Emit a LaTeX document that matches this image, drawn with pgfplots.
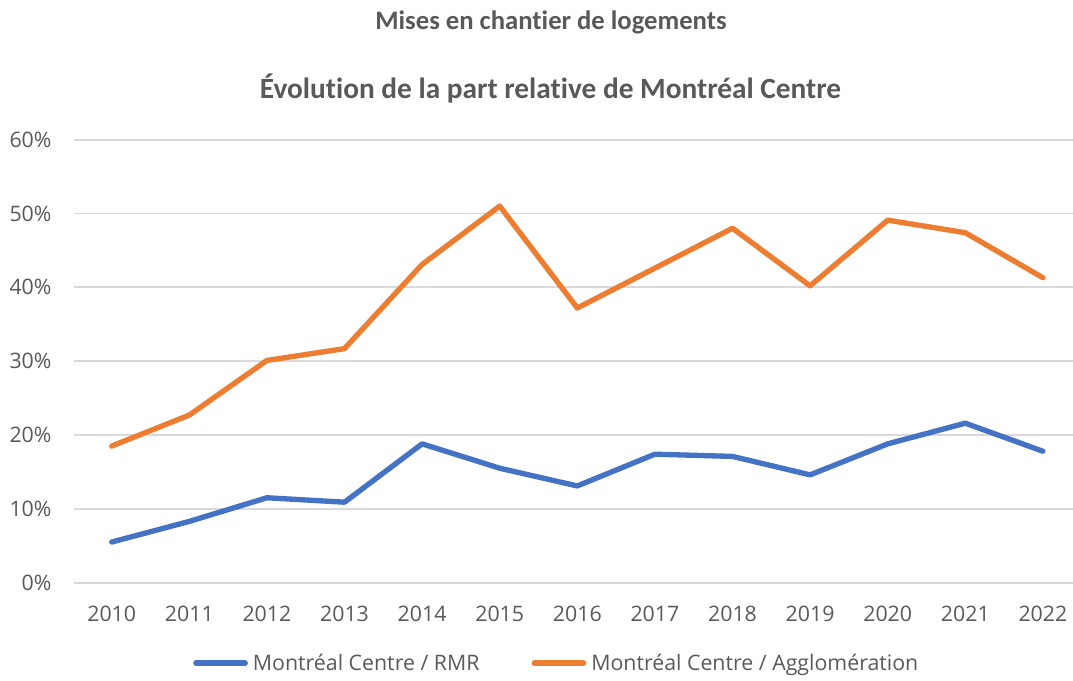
\documentclass[border=0pt]{standalone}
\usepackage{fontspec}
\setmainfont{Open Sans}
\newfontfamily\titlefont{Carlito}[Ligatures=NoCommon]
\usepackage{pgfplots}
\pgfplotsset{compat=1.18}
\definecolor{txt}{HTML}{595959}
\definecolor{gridc}{HTML}{D9D9D9}
\definecolor{rmr}{HTML}{4472C4}
\definecolor{agglo}{HTML}{ED7D31}

\begin{document}
\begin{tikzpicture}
% whole picture: 1073 x 681 px at 0.75pt per px
\useasboundingbox (-55.5pt,-73.7pt) rectangle (749.25pt,437pt);
\begin{axis}[
    at={(0pt,0pt)}, anchor=south west,
    scale only axis,
    width=749.25pt, height=332.25pt,
    xmin=-0.486, xmax=12.388,
    ymin=0, ymax=60,
    xtick={0,...,12},
    xticklabels={2010,2011,2012,2013,2014,2015,2016,2017,2018,2019,2020,2021,2022},
    ytick={0,10,...,60},
    yticklabels={0\%,10\%,20\%,30\%,40\%,50\%,60\%},
    /pgf/number format/assume math mode=true,
    axis line style={draw=none},
    major tick length=0pt,
    ymajorgrids=true,
    grid style={gridc, line width=1.3pt},
    ticklabel style={font=\fontsize{16}{19}\selectfont, text=txt, inner sep=0pt},
    xticklabel style={anchor=center, yshift=-23.25pt},
    yticklabel style={anchor=east, xshift=-16.7pt},
    legend columns=2,
    legend style={
        at={(axis description cs:0.1191,-0.1813)}, anchor=west,
        draw=none, fill=none, inner sep=0pt,
        font=\fontsize{16}{19}\selectfont, text=txt,
        nodes={inner sep=0pt},
        /tikz/every odd column/.append style={column sep=3.75pt},
        /tikz/every even column/.append style={column sep=39pt},
    },
    legend image code/.code={\draw[#1, line cap=round] (2pt,0pt) -- (39pt,0pt);},
    every axis plot/.append style={line width=4pt, line join=round, line cap=round},
]
% Montréal Centre / RMR
\addplot[rmr] coordinates {
    (0,5.5)(1,8.3)(2,11.5)(3,10.9)(4,18.8)(5,15.5)(6,13.1)
    (7,17.4)(8,17.1)(9,14.6)(10,18.8)(11,21.6)(12,17.8)
};
\addlegendentry{Montréal Centre / RMR}
% Montréal Centre / Agglomération
\addplot[agglo] coordinates {
    (0,18.5)(1,22.7)(2,30.1)(3,31.7)(4,43.1)(5,51.0)(6,37.2)
    (7,42.6)(8,48.0)(9,40.2)(10,49.1)(11,47.4)(12,41.3)
};
\addlegendentry{Montréal Centre / Agglomération}
\end{axis}
\node[anchor=base, text=txt, font=\titlefont\bfseries\fontsize{20}{24}\selectfont]
    at (357.75pt,414.5pt) {Mises en chantier de logements};
\node[anchor=base, text=txt, font=\titlefont\bfseries\fontsize{22}{26}\selectfont]
    at (357.4pt,362.8pt) {Évolution de la part relative de Montréal Centre};
\end{tikzpicture}
\end{document}
